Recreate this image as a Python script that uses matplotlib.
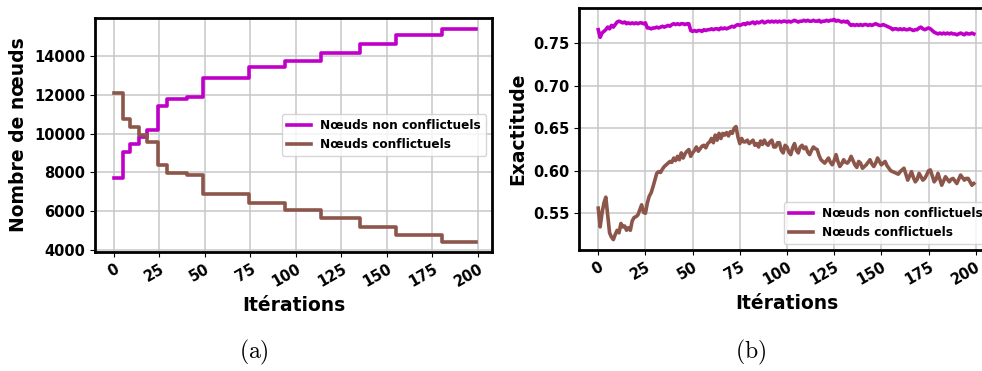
import numpy as np
import matplotlib
matplotlib.use("Agg")
import matplotlib.pyplot as plt

plt.rcParams['font.family'] = ['DejaVu Sans']
plt.rcParams['mathtext.fontset'] = 'cm'

# ---------------- Panel (a): number of nodes (step data) ----------------
step_starts = [0, 5, 9, 14, 18, 24, 29, 40, 49, 74, 94, 114, 135, 155, 180]
nonconf_steps = [7700, 9050, 9440, 9840, 10180, 11420, 11810, 11900, 12890,
                 13440, 13750, 14160, 14640, 15070, 15380]
conf_steps = [12100, 10750, 10350, 9920, 9580, 8380, 7980, 7880, 6880,
              6400, 6060, 5630, 5200, 4770, 4430]
n_iter = 200

# ---------------- Panel (b): accuracy ----------------
acc_nonconf = [
    0.766, 0.757, 0.762, 0.764, 0.766, 0.769, 0.767, 0.771, 0.769, 0.772,
    0.775, 0.776, 0.775, 0.774, 0.775, 0.773, 0.774, 0.773, 0.774, 0.773,
    0.774, 0.773, 0.774, 0.774, 0.773, 0.774, 0.768, 0.768, 0.767, 0.768,
    0.768, 0.769, 0.768, 0.769, 0.770, 0.769, 0.770, 0.771, 0.770, 0.772,
    0.773, 0.772, 0.773, 0.772, 0.773, 0.773, 0.772, 0.773, 0.773, 0.765,
    0.764, 0.765, 0.764, 0.765, 0.765, 0.764, 0.766, 0.765, 0.766, 0.766,
    0.767, 0.766, 0.767, 0.767, 0.766, 0.768, 0.767, 0.768, 0.767, 0.768,
    0.769, 0.770, 0.769, 0.771, 0.772, 0.771, 0.772, 0.773, 0.772, 0.774,
    0.773, 0.774, 0.775, 0.773, 0.775, 0.774, 0.775, 0.776, 0.774, 0.775,
    0.776, 0.775, 0.776, 0.775, 0.776, 0.775, 0.776, 0.775, 0.776, 0.776,
    0.775, 0.776, 0.775, 0.776, 0.777, 0.776, 0.775, 0.776, 0.776, 0.777,
    0.776, 0.777, 0.776, 0.776, 0.777, 0.776, 0.776, 0.777, 0.775, 0.776,
    0.776, 0.777, 0.776, 0.777, 0.777, 0.778, 0.776, 0.777, 0.776, 0.775,
    0.776, 0.775, 0.776, 0.773, 0.771, 0.772, 0.771, 0.772, 0.771, 0.772,
    0.771, 0.772, 0.772, 0.771, 0.772, 0.771, 0.772, 0.773, 0.772, 0.771,
    0.771, 0.772, 0.771, 0.770, 0.769, 0.768, 0.766, 0.767, 0.767, 0.766,
    0.767, 0.766, 0.767, 0.766, 0.766, 0.767, 0.766, 0.765, 0.766, 0.766,
    0.768, 0.769, 0.767, 0.766, 0.767, 0.768, 0.767, 0.765, 0.763, 0.762,
    0.761, 0.762, 0.761, 0.762, 0.761, 0.762, 0.761, 0.762, 0.761, 0.761,
    0.760, 0.761, 0.762, 0.761, 0.760, 0.762, 0.761, 0.761, 0.762, 0.761,
]
acc_conf = [
    0.556, 0.534, 0.550, 0.562, 0.569, 0.548, 0.527, 0.522, 0.519, 0.525,
    0.530, 0.527, 0.538, 0.534, 0.535, 0.530, 0.533, 0.530, 0.541, 0.545,
    0.546, 0.548, 0.554, 0.560, 0.551, 0.550, 0.562, 0.570, 0.574, 0.581,
    0.589, 0.597, 0.599, 0.598, 0.602, 0.605, 0.607, 0.609, 0.611, 0.610,
    0.615, 0.612, 0.617, 0.613, 0.621, 0.615, 0.620, 0.623, 0.625, 0.617,
    0.621, 0.624, 0.628, 0.623, 0.626, 0.629, 0.630, 0.627, 0.632, 0.634,
    0.638, 0.633, 0.642, 0.636, 0.644, 0.638, 0.644, 0.642, 0.645, 0.641,
    0.646, 0.644, 0.650, 0.652, 0.640, 0.632, 0.638, 0.634, 0.634, 0.636,
    0.632, 0.634, 0.636, 0.630, 0.632, 0.628, 0.635, 0.631, 0.636, 0.632,
    0.630, 0.634, 0.636, 0.628, 0.628, 0.633, 0.633, 0.624, 0.621, 0.630,
    0.628, 0.622, 0.619, 0.627, 0.632, 0.624, 0.621, 0.628, 0.630, 0.626,
    0.628, 0.622, 0.619, 0.624, 0.628, 0.626, 0.625, 0.618, 0.613, 0.611,
    0.609, 0.612, 0.615, 0.610, 0.607, 0.612, 0.619, 0.611, 0.605, 0.608,
    0.613, 0.610, 0.609, 0.612, 0.617, 0.612, 0.607, 0.604, 0.611, 0.609,
    0.603, 0.605, 0.607, 0.610, 0.613, 0.608, 0.605, 0.609, 0.615, 0.611,
    0.607, 0.609, 0.611, 0.606, 0.603, 0.600, 0.599, 0.598, 0.597, 0.596,
    0.599, 0.601, 0.603, 0.596, 0.589, 0.594, 0.599, 0.592, 0.587, 0.590,
    0.597, 0.593, 0.589, 0.591, 0.595, 0.600, 0.601, 0.594, 0.587, 0.590,
    0.597, 0.590, 0.583, 0.588, 0.593, 0.590, 0.587, 0.590, 0.591, 0.588,
    0.585, 0.590, 0.595, 0.592, 0.589, 0.591, 0.591, 0.587, 0.583, 0.585,
]

x_ticks = [0, 25, 50, 75, 100, 125, 150, 175, 200]
labels = ["Nœuds non conflictuels", "Nœuds conflictuels"]
c_non = "#c000c8"
c_conf = "#8c564b"

lengths = np.diff(step_starts + [n_iter])
nodes_non = np.repeat(nonconf_steps, lengths)
nodes_conf = np.repeat(conf_steps, lengths)
iters = np.arange(n_iter)

fig = plt.figure(figsize=(9.82, 3.71), dpi=100)
W, H = 982, 371

def add_ax(l, t, r, b):
    return fig.add_axes([l / W, 1 - b / H, (r - l) / W, (b - t) / H])

ax1 = add_ax(95, 18, 492, 252)
ax2 = add_ax(579, 8, 994, 250)

ax1.step(iters, nodes_non, where='post', color=c_non, lw=2.6, label=labels[0])
ax1.step(iters, nodes_conf, where='post', color=c_conf, lw=2.6, label=labels[1])
ax1.set_xlim(-10.4, 207.7)
ax1.set_ylim(3897, 15960)
ax1.set_yticks([4000, 6000, 8000, 10000, 12000, 14000])
ax1.set_ylabel("Nombre de nœuds", fontsize=13.5, fontweight='bold')
ax1.legend(loc='center right', prop={'weight': 'bold', 'size': 8.7})

ax2.plot(iters, acc_nonconf, color=c_non, lw=2.6, label=labels[0])
ax2.plot(iters, acc_conf, color=c_conf, lw=2.6, label=labels[1])
ax2.set_xlim(-10.2, 209.7)
ax2.set_ylim(0.5068, 0.7915)
ax2.set_yticks([0.55, 0.60, 0.65, 0.70, 0.75])
ax2.set_ylabel("Exactitude", fontsize=13.5, fontweight='bold')
ax2.legend(loc='lower right', prop={'weight': 'bold', 'size': 8.7})

for ax in (ax1, ax2):
    ax.set_xticks(x_ticks)
    ax.grid(True, color='#c8c8c8', lw=1.1)
    ax.set_axisbelow(True)
    ax.set_xlabel("Itérations", fontsize=13.5, fontweight='bold')
    for lab in ax.get_xticklabels():
        lab.set_rotation(30)
        lab.set_ha('right')
        lab.set_rotation_mode('anchor')
        lab.set_fontweight('bold')
        lab.set_fontsize(10.5)
    for lab in ax.get_yticklabels():
        lab.set_fontweight('bold')
        lab.set_fontsize(10.5)
    for s in ax.spines.values():
        s.set_linewidth(2.0)
        s.set_color('black')

fig.text(254 / W, 1 - 352 / H, r"$\mathrm{(a)}$", fontsize=17, ha='center', va='center')
fig.text(751 / W, 1 - 352 / H, r"$\mathrm{(b)}$", fontsize=17, ha='center', va='center')

fig.savefig("out.png", dpi=100)
